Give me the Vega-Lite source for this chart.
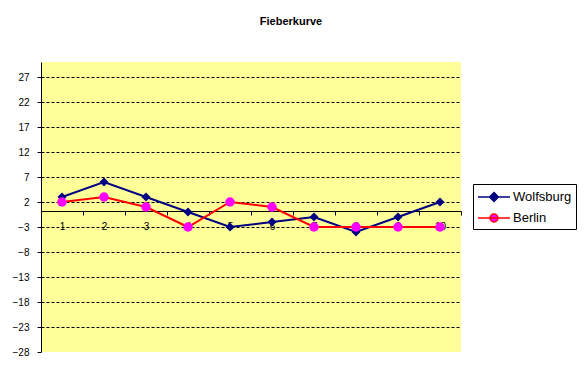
{
  "$schema": "https://vega.github.io/schema/vega-lite/v6.json",
  "width": 420,
  "height": 290,
  "autosize": {"type": "none"},
  "padding": {"left": 41, "top": 62, "right": 123, "bottom": 25},
  "background": "white",
  "title": {
    "text": "Fieberkurve",
    "font": "Arial, Liberation Sans",
    "fontSize": 11,
    "fontWeight": "bold",
    "color": "black",
    "anchor": "middle",
    "frame": "group",
    "dx": 40,
    "offset": 35
  },
  "data": {
    "values": [
      {"x": "1", "city": "Wolfsburg", "value": 3},
      {"x": "2", "city": "Wolfsburg", "value": 6},
      {"x": "3", "city": "Wolfsburg", "value": 3},
      {"x": "4", "city": "Wolfsburg", "value": 0},
      {"x": "5", "city": "Wolfsburg", "value": -3},
      {"x": "6", "city": "Wolfsburg", "value": -2},
      {"x": "7", "city": "Wolfsburg", "value": -1},
      {"x": "8", "city": "Wolfsburg", "value": -4},
      {"x": "9", "city": "Wolfsburg", "value": -1},
      {"x": "10", "city": "Wolfsburg", "value": 2},
      {"x": "1", "city": "Berlin", "value": 2},
      {"x": "2", "city": "Berlin", "value": 3},
      {"x": "3", "city": "Berlin", "value": 1},
      {"x": "4", "city": "Berlin", "value": -3},
      {"x": "5", "city": "Berlin", "value": 2},
      {"x": "6", "city": "Berlin", "value": 1},
      {"x": "7", "city": "Berlin", "value": -3},
      {"x": "8", "city": "Berlin", "value": -3},
      {"x": "9", "city": "Berlin", "value": -3},
      {"x": "10", "city": "Berlin", "value": -3}
    ]
  },
  "encoding": {
    "x": {
      "field": "x",
      "type": "ordinal",
      "sort": ["1", "2", "3", "4", "5", "6", "7", "8", "9", "10"],
      "bandPosition": 0.5,
      "scale": {"type": "band", "paddingInner": 0, "paddingOuter": 0},
      "axis": {
        "title": null,
        "offset": -141,
        "tickBand": "extent",
        "tickSize": 4,
        "tickColor": "black",
        "domainColor": "black",
        "labelAngle": 0,
        "labelPadding": 6,
        "labelFont": "Arial, Liberation Sans",
        "labelFontSize": 10,
        "labelColor": "black",
        "grid": false,
        "zindex": 0
      }
    },
    "y": {
      "field": "value",
      "type": "quantitative",
      "scale": {"domain": [-28, 30], "nice": false, "zero": false},
      "axis": {
        "title": null,
        "values": [-28, -23, -18, -13, -8, -3, 2, 7, 12, 17, 22, 27],
        "grid": true,
        "gridColor": "black",
        "gridDash": [3, 2],
        "gridWidth": 1,
        "gridOpacity": {"condition": {"test": "datum.value === -28", "value": 0}, "value": 1},
        "tickSize": 4,
        "tickColor": "black",
        "domainColor": "black",
        "labelPadding": 8,
        "labelFont": "Arial, Liberation Sans",
        "labelFontSize": 10,
        "labelColor": "black",
        "zindex": 0
      }
    }
  },
  "layer": [
    {
      "mark": {"type": "line", "strokeWidth": 2},
      "encoding": {
        "color": {
          "field": "city",
          "type": "nominal",
          "scale": {"domain": ["Wolfsburg", "Berlin"], "range": ["#000080", "#FF0000"]},
          "legend": {
            "title": null,
            "orient": "none",
            "legendX": 432,
            "legendY": 122,
            "strokeColor": "black",
            "fillColor": "white",
            "padding": 4,
            "symbolSize": 256,
            "symbolOffset": 8,
            "labelOffset": 10,
            "rowPadding": 4,
            "labelFont": "Arial, Liberation Sans",
            "labelFontSize": 13,
            "labelColor": "black",
            "encode": {
              "symbols": {
                "update": {
                  "shape": {"signal": "datum.value === 'Wolfsburg' ? 'M-2,0H2M0,-0.55L0.55,0L0,0.55L-0.55,0Z' : 'M-2,0H2M-0.5,0A0.5,0.5 0 1,0 0.5,0A0.5,0.5 0 1,0 -0.5,0Z'"},
                  "stroke": {"signal": "datum.value === 'Wolfsburg' ? '#000080' : '#FF0000'"},
                  "fill": {"signal": "datum.value === 'Wolfsburg' ? '#000080' : '#FF00FF'"},
                  "strokeWidth": {"value": 1.5},
                  "size": {"value": 256},
                  "opacity": {"value": 1}
                }
              }
            }
          }
        }
      }
    },
    {
      "transform": [{"filter": "datum.city === 'Wolfsburg'"}],
      "mark": {"type": "point", "filled": true, "opacity": 1, "size": 80, "shape": "diamond", "color": "#000080"}
    },
    {
      "transform": [{"filter": "datum.city === 'Berlin'"}],
      "mark": {"type": "point", "filled": true, "opacity": 1, "size": 90, "shape": "circle", "color": "#FF00FF"}
    }
  ],
  "config": {
    "view": {"fill": "#FFFF99", "stroke": null},
    "font": "Arial, Liberation Sans"
  }
}
